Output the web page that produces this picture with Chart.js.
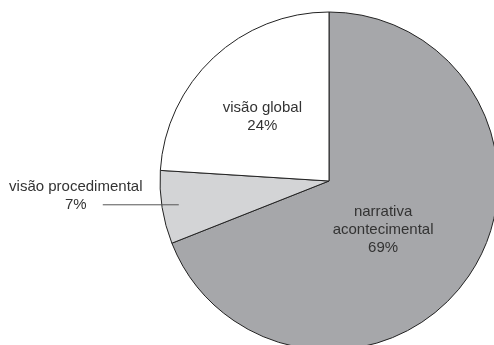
<!DOCTYPE html>
<html>
<head>
<meta charset="utf-8">
<script src="https://cdn.jsdelivr.net/npm/chart.js@4/dist/chart.umd.min.js"></script>
<style>
  html, body { margin: 0; padding: 0; background: #fff; overflow: hidden; }
  #wrap { width: 494px; height: 345px; position: relative; }
</style>
</head>
<body>
<div id="wrap"><canvas id="pie" width="494" height="345"></canvas></div>
<script>
const labels = ['narrativa acontecimental', 'visão procedimental', 'visão global']
const labelLines = [['narrativa', 'acontecimental'], ['visão procedimental'], ['visão global']]
const values = [69, 7, 24]
const colors = ['#a6a7aa', '#d3d4d6', '#ffffff']

const ctx = document.getElementById('pie').getContext('2d')

// where each text block goes, relative to the slice middle
const placement = [
    { frac: 0.43, dx: -6, dy: 8 },
    { outside: true, lineFrac: 0.9, lineLen: 76 },
    { frac: 0.55, dx: -3, dy: 4 }
]

const sliceLabels = {
    id: 'sliceLabels',
    afterDatasetsDraw(chart) {
        const c = chart.ctx
        const meta = chart.getDatasetMeta(0)
        c.save()
        c.font = '15px "Liberation Sans", Arial, sans-serif'
        c.fillStyle = '#333'
        c.textAlign = 'center'
        c.textBaseline = 'middle'
        const lh = 18
        meta.data.forEach((arc, i) => {
            const p = arc.getProps(['x', 'y', 'startAngle', 'endAngle', 'outerRadius'], true)
            const mid = (p.startAngle + p.endAngle) / 2
            const text = labelLines[i].concat([values[i] + '%'])
            const place = placement[i]
            if (place.outside) {
                const ex = p.x + Math.cos(mid) * p.outerRadius * place.lineFrac
                const ey = p.y + Math.sin(mid) * p.outerRadius * place.lineFrac
                const sx = ex - place.lineLen
                c.strokeStyle = '#555'
                c.lineWidth = 1
                c.beginPath()
                c.moveTo(sx, ey)
                c.lineTo(ex, ey)
                c.stroke()
                const tx = sx - 27
                for (let k = 0; k < text.length; k++) {
                    c.fillText(text[k], tx, ey - (text.length - 1 - k) * lh)
                }
            } else {
                const cx = p.x + Math.cos(mid) * p.outerRadius * place.frac + place.dx
                const cy = p.y + Math.sin(mid) * p.outerRadius * place.frac + place.dy
                const top = cy - (text.length - 1) * lh / 2
                for (let k = 0; k < text.length; k++) {
                    c.fillText(text[k], cx, top + k * lh)
                }
            }
        })
        c.restore()
    }
}

const chart = new Chart(ctx, {
    type: 'pie',
    data: {
        labels: labels,
        datasets: [{
            data: values,
            backgroundColor: colors,
            borderColor: '#222',
            borderWidth: 1,
            hoverOffset: 0
        }]
    },
    options: {
        responsive: false,
        animation: false,
        events: [],
        radius: 169,
        layout: { padding: { left: 164, top: 17, right: 0, bottom: 0 } },
        plugins: {
            legend: { display: false },
            tooltip: { enabled: false }
        }
    },
    plugins: [sliceLabels]
})
</script>
</body>
</html>
